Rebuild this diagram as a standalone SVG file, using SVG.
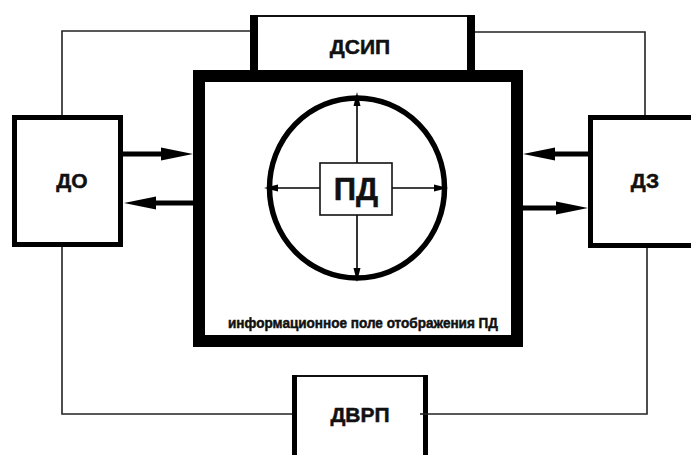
<svg xmlns="http://www.w3.org/2000/svg" width="691" height="455" viewBox="0 0 691 455">
<style>
.lbl{font-family:"Liberation Sans",Arial,sans-serif;font-weight:bold;fill:#111;stroke:#111;stroke-width:0.5;text-anchor:middle}
.thin{fill:none;stroke:#222;stroke-width:1.6}
.box{fill:#fff;stroke:#000}
.big{fill:none;stroke:#000;stroke-width:5}
.sm{fill:none;stroke:#000;stroke-width:1.6}
</style>
<defs>
<marker id="ah" markerUnits="userSpaceOnUse" markerWidth="32" markerHeight="14" viewBox="0 0 32 14" refX="12" refY="7" orient="auto">
<path d="M0,0.5 L32,7 L0,13.5 z" fill="#000"/>
</marker>
<marker id="as" markerUnits="userSpaceOnUse" markerWidth="14" markerHeight="8" viewBox="0 0 14 8" refX="5" refY="4" orient="auto">
<path d="M0,0.5 L14,4 L0,7.5 z" fill="#000"/>
</marker>
</defs>
<rect width="691" height="455" fill="#fff"/>

<g id="connectors">
<polyline class="thin" points="62,115 62,31 250,31"/>
<polyline class="thin" points="475,32 645,32 645,115"/>
<polyline class="thin" points="62,247 62,414 292,414"/>
<polyline class="thin" points="420,414 647,414 647,246"/>
<line class="big" x1="123" y1="154" x2="173" y2="154" marker-end="url(#ah)"/>
<line class="big" x1="193" y1="203" x2="144" y2="203" marker-end="url(#ah)"/>
<line class="big" x1="590" y1="154" x2="543" y2="154" marker-end="url(#ah)"/>
<line class="big" x1="523" y1="208" x2="568" y2="208" marker-end="url(#ah)"/>
</g>

<g id="dsip">
<rect x="250" y="15" width="225" height="56" fill="#fff"/>
<line x1="250" y1="16" x2="475" y2="16" stroke="#111" stroke-width="2"/>
<rect x="250" y="15" width="8" height="56" fill="#000"/>
<rect x="467" y="15" width="8" height="56" fill="#000"/>
<text class="lbl" x="360" y="54" font-size="21">ДСИП</text>
</g>

<g id="field">
<rect class="box" x="199" y="76" width="318" height="265" stroke-width="12"/>
<text class="lbl" x="363" y="328" font-size="15" stroke-width="0.4" textLength="270" lengthAdjust="spacingAndGlyphs">информационное поле отображения ПД</text>
</g>

<g id="pd">
<ellipse cx="357" cy="188" rx="87.5" ry="90" fill="none" stroke="#000" stroke-width="5.5"/>
<line class="sm" x1="320" y1="188" x2="273" y2="188" marker-end="url(#as)"/>
<line class="sm" x1="392" y1="188" x2="439" y2="188" marker-end="url(#as)"/>
<line class="sm" x1="357" y1="163" x2="357" y2="101" marker-end="url(#as)"/>
<line class="sm" x1="357" y1="215" x2="357" y2="273" marker-end="url(#as)"/>
<rect x="320" y="163" width="72" height="52" fill="#fff" stroke="#111" stroke-width="1.6"/>
<text class="lbl" x="356" y="200" font-size="31" stroke-width="0.8">ПД</text>
</g>

<g id="do">
<rect class="box" x="14.5" y="117.5" width="106" height="127" stroke-width="5"/>
<text class="lbl" x="72" y="188" font-size="21">ДО</text>
</g>

<g id="dz">
<rect class="box" x="590.5" y="117.5" width="110" height="128" stroke-width="5"/>
<text class="lbl" x="645" y="188" font-size="21">ДЗ</text>
</g>

<g id="dvrp">
<rect x="292" y="375" width="136" height="85" fill="#fff"/>
<line x1="292" y1="376" x2="428" y2="376" stroke="#111" stroke-width="2"/>
<rect x="292" y="375" width="5" height="85" fill="#000"/>
<rect x="423" y="375" width="5" height="85" fill="#000"/>
<line class="thin" x1="420" y1="414" x2="428" y2="414"/>
<text class="lbl" x="360" y="422" font-size="21">ДВРП</text>
</g>
</svg>
